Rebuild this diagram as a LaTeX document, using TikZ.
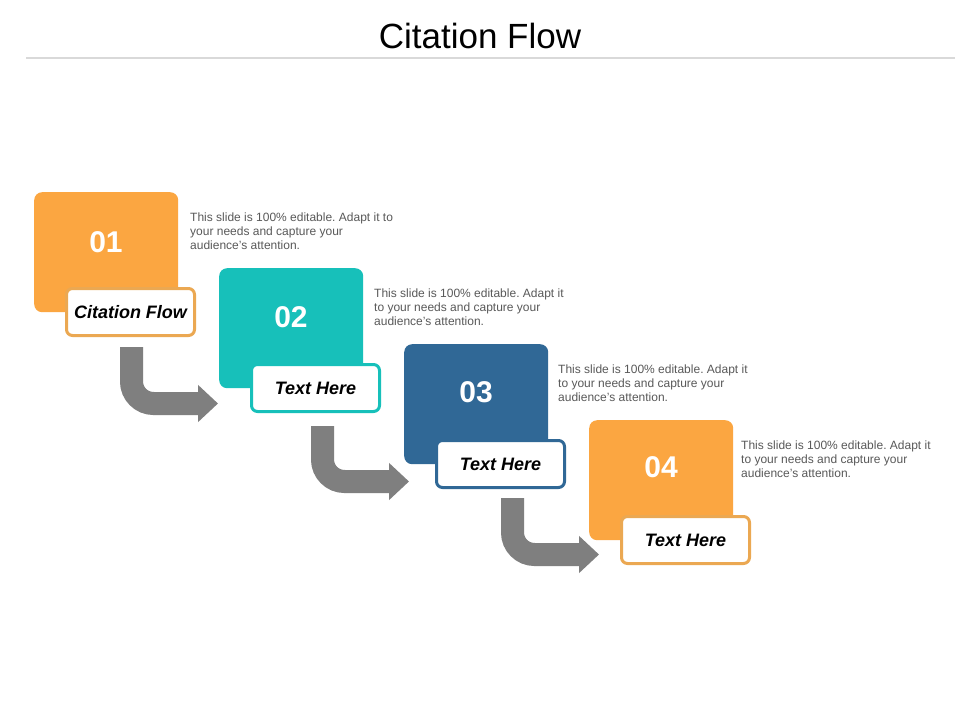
\documentclass[tikz,border=0pt]{standalone}
\usepackage{fontspec}
\setmainfont{Liberation Sans}
\usetikzlibrary{arrows.meta}
\frenchspacing
\definecolor{corange}{HTML}{FBA641}
\definecolor{cteal}{HTML}{17C0BA}
\definecolor{cblue}{HTML}{306896}
\definecolor{ctag}{HTML}{EBA852}
\definecolor{cgrey}{HTML}{7F7F7F}
\definecolor{ctext}{HTML}{595959}
\definecolor{cline}{HTML}{D9D9D9}
\begin{document}
\begin{tikzpicture}[x=1pt,y=-1pt,
  card/.style={rectangle, rounded corners=8pt, minimum width=144pt, minimum height=120pt, anchor=north west, inner sep=0pt, draw=none},
  tagbox/.style={rectangle, rounded corners=6pt, minimum width=128pt, minimum height=47pt, line width=3pt, fill=white, anchor=north west, inner sep=0pt, font=\fontsize{18}{20}\selectfont\bfseries\itshape, text=black},
  num/.style={anchor=base, inner sep=0pt, text=white, font=\fontsize{30}{32}\selectfont\bfseries},
  desc/.style={anchor=north west, inner sep=0pt, align=left, text=ctext, font=\fontsize{12}{13.8}\selectfont},
  flow/.style={draw=cgrey, line width=23pt, rounded corners=22pt, -{Triangle[length=20pt,width=36pt]}}
]
\useasboundingbox[fill=white] (0,0) rectangle (960,720);
% title
\node[anchor=base, inner sep=0pt, font=\fontsize{35}{40}\selectfont] (title) at (480,48) {Citation Flow};
\draw[cline, line width=2pt] (26,57.5) coordinate (l1) -- (955,57.5) coordinate (l2);

% cards
\node[card, fill=corange] (c1) at (34,192) {};
\node[card, fill=cteal]   (c2) at (219,268) {};
\node[card, fill=cblue]   (c3) at (404,344) {};
\node[card, fill=corange] (c4) at (589,420) {};

\node[num] (n1) at (106,252) {01};
\node[num] (n2) at (291,327) {02};
\node[num] (n3) at (476,402) {03};
\node[num] (n4) at (661,477) {04};

\node[tagbox, draw=ctag]    (t1) at (65,287)  {Citation Flow};
\node[tagbox, draw=cteal]   (t2) at (250,363) {Text Here};
\node[tagbox, draw=cblue]   (t3) at (435,439) {Text Here};
\node[tagbox, draw=ctag]    (t4) at (620,515) {Text Here};

\node[desc] (d1) at (190,213) {This slide is 100\% editable. Adapt it to\\your needs and capture your\\audience's attention.};
\node[desc] (d2) at (374,289) {This slide is 100\% editable. Adapt it\\to your needs and capture your\\audience's attention.};
\node[desc] (d3) at (558,365) {This slide is 100\% editable. Adapt it\\to your needs and capture your\\audience's attention.};
\node[desc] (d4) at (741,441) {This slide is 100\% editable. Adapt it\\to your needs and capture your\\audience's attention.};

% arrows
\coordinate (a1s) at (131.5,347);
\coordinate (a1e) at (218,403.5);
\coordinate (a2s) at (322.5,426);
\coordinate (a2e) at (409,481.5);
\coordinate (a3s) at (512.5,498);
\coordinate (a3e) at (599,554.5);
\draw[flow] (a1s) |- (a1e);
\draw[flow] (a2s) |- (a2e);
\draw[flow] (a3s) |- (a3e);
\end{tikzpicture}
\end{document}
